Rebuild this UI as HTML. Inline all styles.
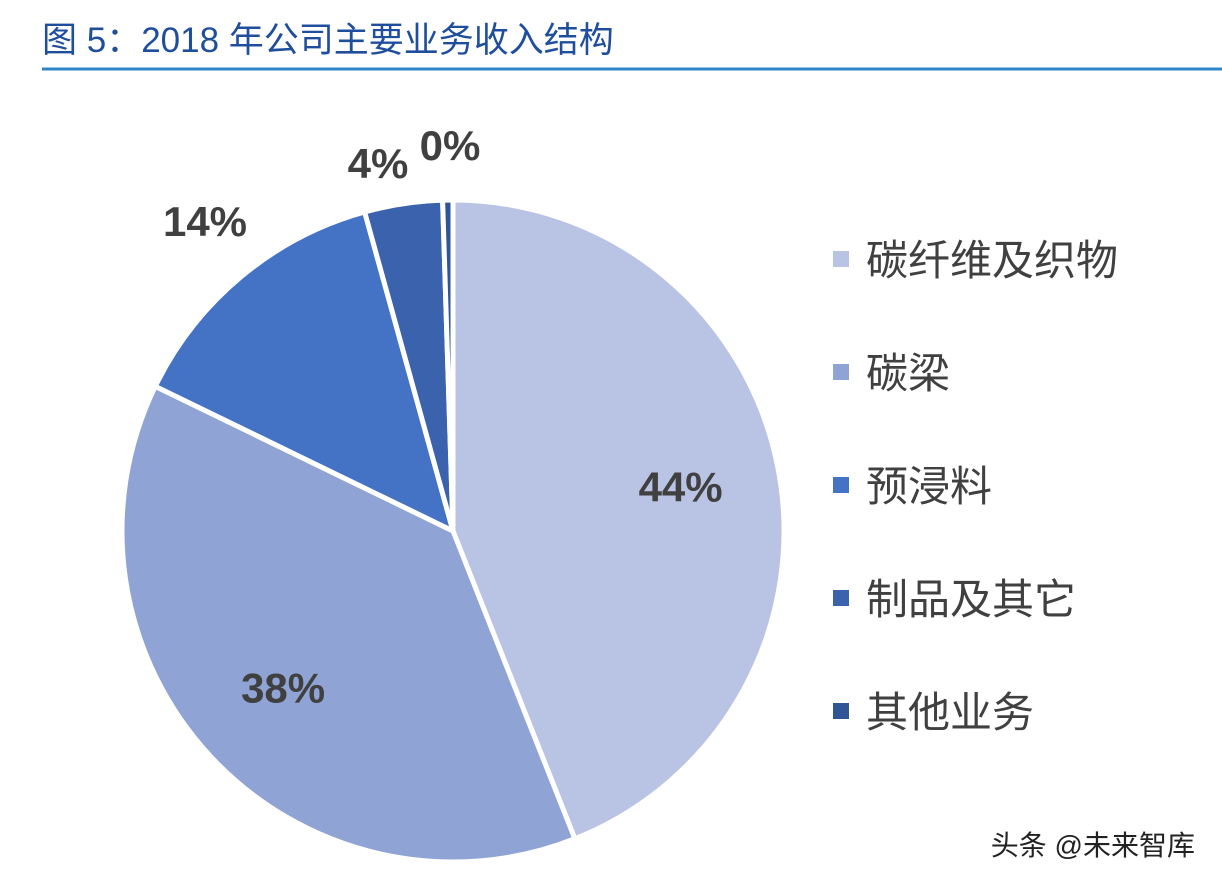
<!DOCTYPE html>
<html><head><meta charset="utf-8"><style>
body{margin:0;background:#fff;}
svg text{font-family:"Liberation Sans","Noto Sans CJK SC",sans-serif;}
</style></head><body>
<svg width="1222" height="884">
<text x="42" y="52" font-size="35" fill="#1F4E9C">图 5：2018 年公司主要业务收入结构</text>
<line x1="42" y1="69" x2="1222" y2="69" stroke="#2E86C8" stroke-width="3"/>
<g id="pie"></g>
<g id="legend"></g>
<text x="1195" y="855" font-size="28" fill="#222" text-anchor="end">头条 @未来智库</text>
</svg>
<script>
const categories=["碳纤维及织物","碳梁","预浸料","制品及其它","其他业务"];
const values=[44.0,38.2,13.5,3.8,0.5];
const labels=["44%","38%","14%","4%","0%"];
const colors=["#B9C3E3","#8FA3D4","#4472C4","#3A62AD","#2F5597"];
const ns="http://www.w3.org/2000/svg";
const cx=453,cy=531,r=331;
const pie=document.getElementById('pie'),leg=document.getElementById('legend');
const total=values.reduce((a,b)=>a+b,0);
function pt(a,rr){return [cx+rr*Math.sin(a),cy-rr*Math.cos(a)];}
const labelPos=[[698,472],[252,698],[205,236],[378,178],[450,160]];
let acc=0;
values.forEach((v,i)=>{
 const a0=acc/total*2*Math.PI;acc+=v;const a1=acc/total*2*Math.PI;
 const p0=pt(a0,r),p1=pt(a1,r);
 const p=document.createElementNS(ns,'path');
 p.setAttribute('d',`M${cx},${cy}L${p0[0]},${p0[1]}A${r},${r} 0 ${a1-a0>Math.PI?1:0} 1 ${p1[0]},${p1[1]}Z`);
 p.setAttribute('fill',colors[i]);p.setAttribute('stroke','#fff');p.setAttribute('stroke-width','5');
 
 
 pie.appendChild(p);
 const t=document.createElementNS(ns,'text');
 let lp;
 if(v>10){const m=(a0+a1)/2;lp=pt(m,r*0.7);lp[1]+=14;} else lp=labelPos[i];
 if(i==2){lp=labelPos[2];}
 t.setAttribute('x',lp[0]);t.setAttribute('y',lp[1]);t.setAttribute('text-anchor','middle');
 t.setAttribute('font-size','42');t.setAttribute('font-weight','bold');t.setAttribute('fill','#404040');
 t.textContent=labels[i];
 
 
 pie.appendChild(t);
 const y=260+i*113;
 const s=document.createElementNS(ns,'rect');
 s.setAttribute('x',833);s.setAttribute('y',y-9);s.setAttribute('width',16);s.setAttribute('height',16);s.setAttribute('fill',colors[i]);
 
 
 leg.appendChild(s);
 const lt=document.createElementNS(ns,'text');
 lt.setAttribute('x',866);lt.setAttribute('y',y+15);lt.setAttribute('font-size','42');lt.setAttribute('fill','#404040');
 lt.textContent=categories[i];
 
 
 leg.appendChild(lt);
});
</script>
</body></html>
